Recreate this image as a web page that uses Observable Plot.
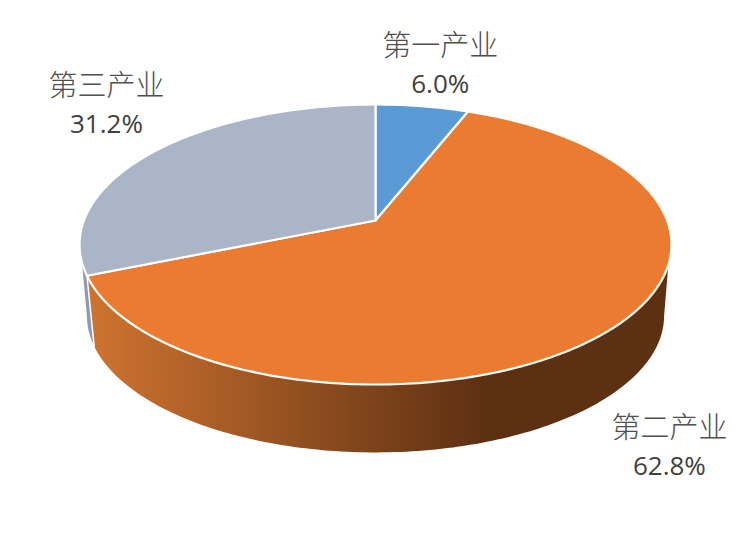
<!DOCTYPE html>
<html>
<head>
<meta charset="utf-8">
<script src="https://cdn.jsdelivr.net/npm/d3@7"></script>
<script src="https://cdn.jsdelivr.net/npm/@observablehq/plot@0.6"></script>
<style>html,body{margin:0;padding:0;background:#fff}svg{display:block}</style>
</head>
<body>
<div id="chart"></div>
<script>
const categories = ["第一产业", "第二产业", "第三产业"];
const shares = [6.0, 62.8, 31.2];
const sliceColors = ["#5b9bd5", "#ea7b30", "#aab6c7"];

// perspective model of the pie: units are pixels relative to the pie's apex
const R = 291.6, S = 135.9, A = 0.1714;
const DEPTH = 72, BOTTOM_SCALE = 0.975;
const project = (deg, r = 1, dy = 0) => {
  const t = deg * Math.PI / 180, u = Math.sin(t) * r, v = Math.cos(t) * r;
  const k = 1 + A * Math.cos(t);
  return {x: R * u / k, y: -S * v / k + dy};
};
const arc = (from, to, r = 1, dy = 0) => {
  const n = Math.max(2, Math.ceil(Math.abs(to - from)));
  return d3.range(n + 1).map(i => project(from + (to - from) * i / n, r, dy));
};

// slice angles
const total = d3.sum(shares);
let acc = 0;
const slices = categories.map((name, i) => {
  const start = acc / total * 360;
  acc += shares[i];
  const end = acc / total * 360;
  return {name, share: shares[i], start, end, mid: (start + end) / 2};
});

// top faces
const topFaces = slices.flatMap(s => {
  const c = {x: 0, y: 0};
  return [c, ...arc(s.start, s.end), c].map(p => ({...p, name: s.name}));
});

// side walls
const edgeAngle = slices[1].end;
const bottomArc = (a, b) => arc(a, b, BOTTOM_SCALE, DEPTH);
const orangeSide = [...arc(108, edgeAngle), ...bottomArc(edgeAngle, 100)];
const graySide = [...arc(edgeAngle, 253), ...bottomArc(260, edgeAngle)];
const edgeLine = [project(edgeAngle), project(edgeAngle, BOTTOM_SCALE, DEPTH)];

// labels: anchored on the rim point of each slice's mid angle
const labelOffsets = [[18, -60], [58, 100], [-48, -65]];
const valueGap = 38;
const labelRows = slices.map((s, i) => {
  const p = project(s.mid);
  return {name: s.name, text: s.share.toFixed(1) + "%", x: p.x + labelOffsets[i][0], y: p.y + labelOffsets[i][1]};
});

const chart = Plot.plot({
  width: 750, height: 545,
  margin: 0,
  x: {domain: [-375, 375], range: [0, 750], axis: null},
  y: {domain: [-220, 325], range: [0, 545], axis: null},
  color: {domain: categories, range: sliceColors},
  style: {background: "#fff"},
  marks: [
    Plot.line(graySide, {x: "x", y: "y", fill: "url(#graySide)", stroke: "none"}),
    Plot.line(orangeSide, {x: "x", y: "y", fill: "url(#orangeSide)", stroke: "none"}),
    Plot.line(edgeLine, {x: "x", y: "y", stroke: "#fff", strokeWidth: 1.5}),
    Plot.line(topFaces, {x: "x", y: "y", z: "name", fill: "name", stroke: "#fff", strokeWidth: 2.2, strokeLinejoin: "round"}),
    Plot.text(labelRows, {x: "x", y: "y", text: "name", fontSize: 29, fontWeight: 300, fill: "#505050", fontFamily: "'Noto Sans CJK SC'", textAnchor: "middle"}),
    Plot.text(labelRows, {x: "x", y: d => d.y + valueGap, text: "text", fontSize: 26, fill: "#404040", fontFamily: "'Open Sans'", textAnchor: "middle"})
  ]
});

const defs = d3.select(chart).insert("defs", ":first-child");
const addGradient = (id, stops) => {
  const g = defs.append("linearGradient").attr("id", id).attr("x1", 0).attr("x2", 1).attr("y1", 0).attr("y2", 0);
  stops.forEach(([o, c]) => g.append("stop").attr("offset", o).attr("stop-color", c));
};
addGradient("orangeSide", [[0, "#cf7430"], [0.68, "#5e3012"], [1, "#5e3012"]]);
addGradient("graySide", [[0, "#8e9ab3"], [1, "#8e9ab3"]]);

document.getElementById("chart").append(chart);
</script>
</body>
</html>
